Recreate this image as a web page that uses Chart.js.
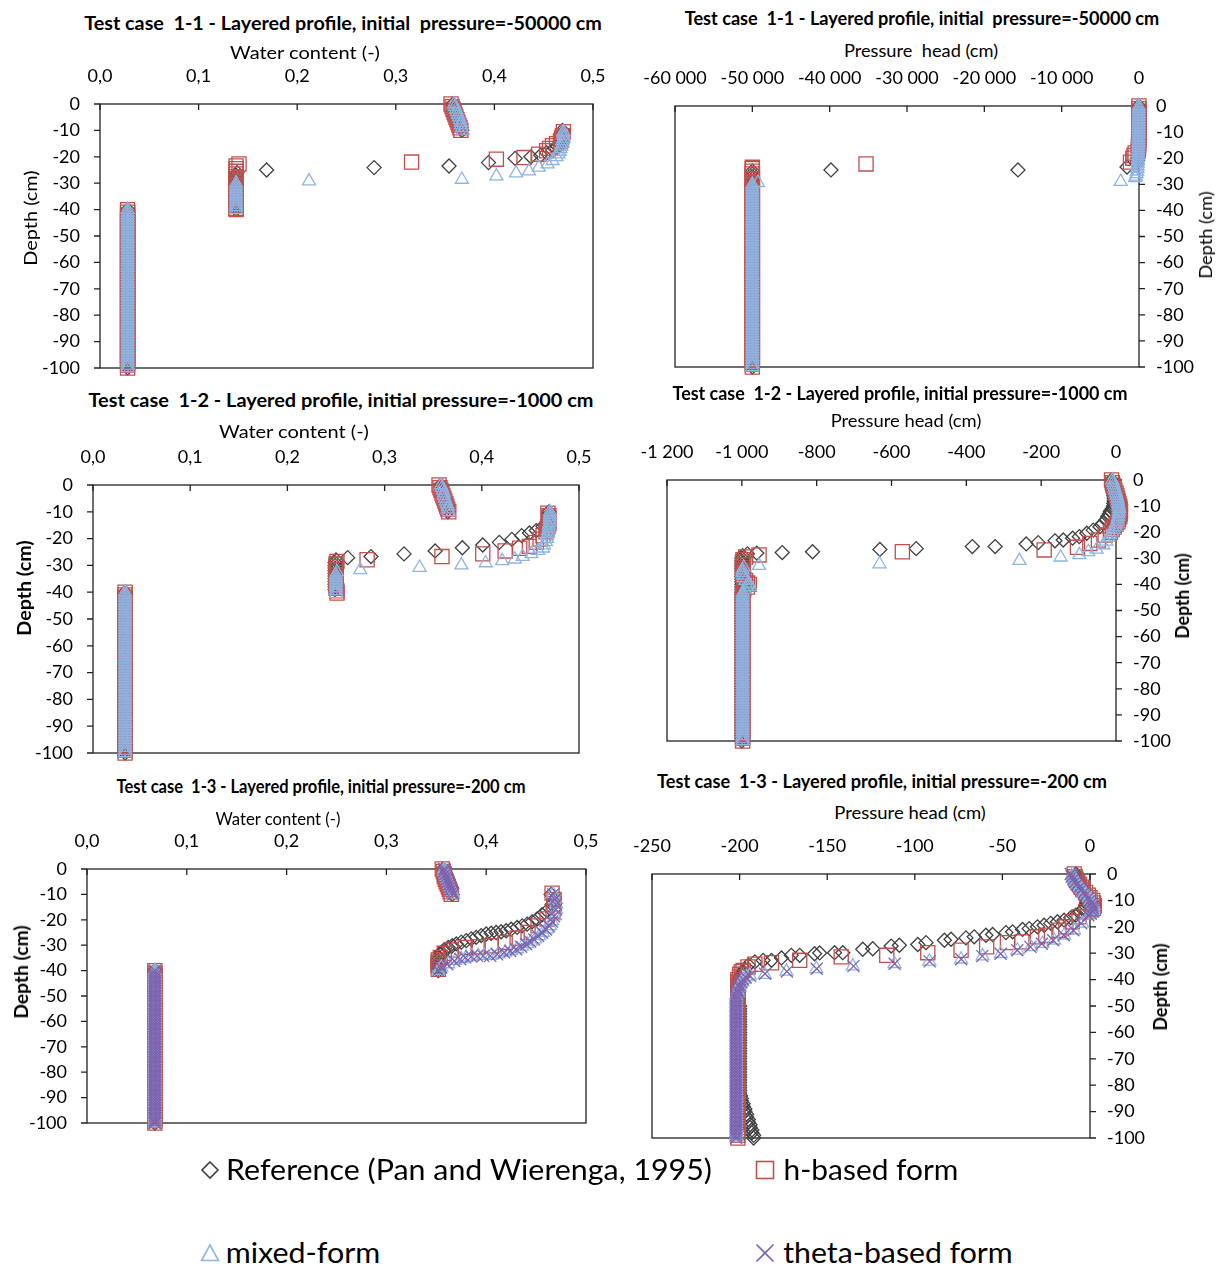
<!DOCTYPE html>
<html>
<head>
<meta charset="utf-8">
<script src="https://cdn.jsdelivr.net/npm/chart.js@4.4.0/dist/chart.umd.min.js"></script>
<style>
  body { margin: 0; background: #fff; }
  #page { position: relative; width: 1224px; height: 1268px; overflow: hidden; font-family: Lato, 'Open Sans', sans-serif; color: #000; }
  #page canvas { position: absolute; }
  .lbl { position: absolute; white-space: pre; line-height: 1; }
  .mark { position: absolute; }
</style>
</head>
<body>
<div id="page"></div>
<script>
// ---- data ----
// node depths (cm) of the top sand layer and of the lower sand layer
const depthTop = [0,-1,-2,-3,-4,-5,-6,-7,-8,-9,-10];
const depthDeep = [-40,-41,-42,-43,-44,-45,-46,-47,-48,-49,-50,-51,-52,-53,-54,-55,-56,-57,-58,-59,
  -60,-61,-62,-63,-64,-65,-66,-67,-68,-69,-70,-71,-72,-73,-74,-75,-76,-77,-78,-79,
  -80,-81,-82,-83,-84,-85,-86,-87,-88,-89,-90,-91,-92,-93,-94,-95,-96,-97,-98,-99,-100];

// Test case 1-1, water content: top layer values, [value, depth] pairs in between, lower layer values
const ref11ThetaTop = [.358,.359,.360,.360,.361,.362,.363,.364,.365,.366,.367];
const ref11ThetaMid = [[.469,-10],[.469,-11],[.469,-12],[.468,-13],[.467,-14],[.466,-15],[.464,-16],[.462,-17],[.459,-17.5],[.453,-18.5],[.447,-19.4],[.437,-20],[.421,-20.6],
  [.394,-22.2],[.354,-23.5],[.278,-24.1],[.169,-25],[.139,-26],[.138,-27],[.138,-28],[.138,-29],[.138,-30],[.138,-31],[.138,-32],[.138,-33],[.138,-34],[.138,-35],[.138,-36],
  [.138,-37],[.138,-38],[.138,-39],[.138,-40]];
const ref11ThetaDeep = [.028,.028,.028,.028,.028,.028,.028,.028,.028,.028,.028,.028,.028,.028,.028,.028,.028,.028,.028,.028,
  .028,.028,.028,.028,.028,.028,.028,.028,.028,.028,.028,.028,.028,.028,.028,.028,.028,.028,.028,.028,
  .028,.028,.028,.028,.028,.028,.028,.028,.028,.028,.028,.028,.028,.028,.028,.028,.028,.028,.028,.028,.028];
const h11ThetaTop = [.356,.357,.358,.359,.360,.361,.362,.363,.364,.365,.366];
const h11ThetaMid = [[.470,-10.5],[.469,-12],[.468,-13],[.467,-14],[.463,-15],[.459,-15.8],[.456,-16.8],[.453,-17.7],[.445,-19],[.430,-20.3],[.402,-20.9],[.316,-22],[.141,-22.7],
  [.138,-23.5],[.138,-24.5],[.138,-25.5],[.138,-26.5],[.138,-27.5],[.138,-28.5],[.138,-29.5],[.138,-30.5],[.138,-31.5],[.138,-32.5],[.138,-33.5],[.138,-34.5],[.138,-35.5],
  [.138,-36.5],[.138,-37.5],[.138,-38.5],[.138,-39.5],[.138,-40]];
const h11ThetaDeep = [.028,.028,.028,.028,.028,.028,.028,.028,.028,.028,.028,.028,.028,.028,.028,.028,.028,.028,.028,.028,
  .028,.028,.028,.028,.028,.028,.028,.028,.028,.028,.028,.028,.028,.028,.028,.028,.028,.028,.028,.028,
  .028,.028,.028,.028,.028,.028,.028,.028,.028,.028,.028,.028,.028,.028,.028,.028,.028,.028,.028,.028,.028];
const mix11ThetaTop = [.359,.360,.361,.362,.363,.364,.365,.366,.366,.367,.368];
const mix11ThetaMid = [[.470,-10.5],[.470,-11],[.470,-12],[.470,-13],[.469,-14],[.469,-15],[.468,-16],[.467,-17],[.466,-18],[.465,-19],[.463,-20],[.459,-21.5],[.454,-22.8],
  [.445,-24],[.435,-25.4],[.422,-26.2],[.402,-27.3],[.367,-28.6],[.212,-29.2],[.138,-30],[.138,-31],[.138,-32],[.138,-33],[.138,-34],[.138,-35],[.138,-36],[.138,-37],
  [.138,-38],[.138,-39],[.138,-40]];
const mix11ThetaDeep = [.028,.028,.028,.028,.028,.028,.028,.028,.028,.028,.028,.028,.028,.028,.028,.028,.028,.028,.028,.028,
  .028,.028,.028,.028,.028,.028,.028,.028,.028,.028,.028,.028,.028,.028,.028,.028,.028,.028,.028,.028,
  .028,.028,.028,.028,.028,.028,.028,.028,.028,.028,.028,.028,.028,.028,.028,.028,.028,.028,.028,.028,.028];

// Test case 1-1, pressure head
const ref11HeadTop = [-20,-20,-20,-20,-20,-25,-25,-30,-30,-35,-40];
const ref11HeadMid = [[-45,-11],[-50,-12],[-55,-13],[-60,-14],[-70,-15],[-80,-16],[-90,-17],[-100,-18],[-120,-19],[-150,-20],[-200,-21],[-300,-22],[-1550,-23.4],[-15650,-24.5],
  [-39830,-24.5],[-50000,-25],[-50000,-26],[-50000,-27],[-50000,-28],[-50000,-29],[-50000,-30],[-50000,-31],[-50000,-32],[-50000,-33],[-50000,-34],[-50000,-35],[-50000,-36],
  [-50000,-37],[-50000,-38],[-50000,-39]];
const ref11HeadDeep = [-50000,-50000,-50000,-50000,-50000,-50000,-50000,-50000,-50000,-50000,-50000,-50000,-50000,-50000,-50000,-50000,-50000,-50000,-50000,-50000,
  -50000,-50000,-50000,-50000,-50000,-50000,-50000,-50000,-50000,-50000,-50000,-50000,-50000,-50000,-50000,-50000,-50000,-50000,-50000,-50000,
  -50000,-50000,-50000,-50000,-50000,-50000,-50000,-50000,-50000,-50000,-50000,-50000,-50000,-50000,-50000,-50000,-50000,-50000,-50000,-50000,-50000];
const h11HeadTop = [-10,-10,-10,-11,-12,-13,-15,-17,-20,-22,-25];
const h11HeadMid = [[-30,-11],[-35,-12],[-40,-13],[-45,-14],[-50,-15],[-60,-16],[-80,-17],[-500,-18],[-650,-19],[-800,-20],[-1100,-21.5],[-35300,-22.2],[-50000,-23.5],
  [-50000,-24],[-50000,-25],[-50000,-26],[-50000,-27],[-50000,-28],[-50000,-29],[-50000,-30],[-50000,-31],[-50000,-32],[-50000,-33],[-50000,-34],[-50000,-35],[-50000,-36],
  [-50000,-37],[-50000,-38],[-50000,-39]];
const h11HeadDeep = [-50000,-50000,-50000,-50000,-50000,-50000,-50000,-50000,-50000,-50000,-50000,-50000,-50000,-50000,-50000,-50000,-50000,-50000,-50000,-50000,
  -50000,-50000,-50000,-50000,-50000,-50000,-50000,-50000,-50000,-50000,-50000,-50000,-50000,-50000,-50000,-50000,-50000,-50000,-50000,-50000,
  -50000,-50000,-50000,-50000,-50000,-50000,-50000,-50000,-50000,-50000,-50000,-50000,-50000,-50000,-50000,-50000,-50000,-50000,-50000,-50000,-50000];
const mix11HeadTop = [-30,-30,-30,-32,-35,-37,-40,-42,-45,-47,-50];
const mix11HeadMid = [[-55,-11],[-60,-12],[-65,-13],[-70,-14],[-75,-15],[-80,-16],[-90,-17],[-100,-18],[-110,-19],[-120,-20],[-135,-21],[-150,-22],[-175,-23],[-200,-24],
  [-250,-25],[-300,-26],[-400,-27],[-500,-27.5],[-2370,-29],[-49270,-29.4],[-50000,-30],[-50000,-31],[-50000,-32],[-50000,-33],[-50000,-34],[-50000,-35],[-50000,-36],
  [-50000,-37],[-50000,-38],[-50000,-39]];
const mix11HeadDeep = [-50000,-50000,-50000,-50000,-50000,-50000,-50000,-50000,-50000,-50000,-50000,-50000,-50000,-50000,-50000,-50000,-50000,-50000,-50000,-50000,
  -50000,-50000,-50000,-50000,-50000,-50000,-50000,-50000,-50000,-50000,-50000,-50000,-50000,-50000,-50000,-50000,-50000,-50000,-50000,-50000,
  -50000,-50000,-50000,-50000,-50000,-50000,-50000,-50000,-50000,-50000,-50000,-50000,-50000,-50000,-50000,-50000,-50000,-50000,-50000,-50000,-50000];

// Test case 1-2, water content
const ref12ThetaTop = [.358,.358,.359,.360,.361,.362,.362,.363,.364,.364,.365];
const ref12ThetaMid = [[.469,-10],[.469,-11],[.469,-12],[.468,-13],[.467,-14],[.463,-15.5],[.456,-17],[.449,-17.9],[.441,-18.9],[.431,-20.3],[.418,-21.4],[.401,-22.4],
  [.380,-23.4],[.352,-24.6],[.320,-25.7],[.286,-26.7],[.262,-27.1],[.250,-28],[.249,-29],[.249,-30],[.249,-31],[.249,-32],[.249,-33],[.249,-34],[.249,-35],[.249,-36],
  [.249,-37],[.249,-38],[.249,-39]];
const ref12ThetaDeep = [.033,.033,.033,.033,.033,.033,.033,.033,.033,.033,.033,.033,.033,.033,.033,.033,.033,.033,.033,.033,
  .033,.033,.033,.033,.033,.033,.033,.033,.033,.033,.033,.033,.033,.033,.033,.033,.033,.033,.033,.033,
  .033,.033,.033,.033,.033,.033,.033,.033,.033,.033,.033,.033,.033,.033,.033,.033,.033,.033,.033,.033,.033];
const h12ThetaTop = [.356,.357,.358,.359,.360,.361,.362,.363,.364,.365,.366];
const h12ThetaMid = [[.468,-10.5],[.469,-11.5],[.469,-12.5],[.469,-13.5],[.469,-14.5],[.468,-15.5],[.467,-16.5],[.466,-17.5],[.463,-18.9],[.460,-20.2],[.456,-21.4],
  [.449,-22.9],[.439,-23.6],[.424,-24.6],[.401,-25.7],[.359,-26.7],[.282,-27.9],[.251,-28.5],[.250,-29.5],[.250,-30.5],[.250,-31.5],[.250,-32.5],[.250,-33.5],[.250,-34.5],
  [.250,-35.5],[.250,-36.5],[.250,-37.5],[.250,-38.5],[.251,-39.5],[.251,-40.3]];
const h12ThetaDeep = [.033,.033,.033,.033,.033,.033,.033,.033,.033,.033,.033,.033,.033,.033,.033,.033,.033,.033,.033,.033,
  .033,.033,.033,.033,.033,.033,.033,.033,.033,.033,.033,.033,.033,.033,.033,.033,.033,.033,.033,.033,
  .033,.033,.033,.033,.033,.033,.033,.033,.033,.033,.033,.033,.033,.033,.033,.033,.033,.033,.033,.033,.033];
const mix12ThetaTop = [.358,.359,.360,.361,.361,.362,.363,.364,.365,.365,.366];
const mix12ThetaMid = [[.470,-10],[.470,-11],[.470,-12],[.470,-13],[.470,-14],[.469,-15],[.469,-16],[.468,-17],[.468,-18],[.467,-19],[.467,-20],[.466,-21.2],[.464,-22.4],
  [.463,-23.6],[.458,-24.5],[.451,-25.7],[.442,-26.7],[.434,-27.7],[.421,-28.3],[.404,-29.1],[.379,-29.9],[.336,-30.8],[.275,-31.7],[.251,-32.5],[.250,-33.5],[.250,-34.5],
  [.250,-35.5],[.250,-36.5],[.250,-37.5],[.250,-38.5],[.250,-39.5],[.250,-40.5]];
const mix12ThetaDeep = [.033,.033,.033,.033,.033,.033,.033,.033,.033,.033,.033,.033,.033,.033,.033,.033,.033,.033,.033,.033,
  .033,.033,.033,.033,.033,.033,.033,.033,.033,.033,.033,.033,.033,.033,.033,.033,.033,.033,.033,.033,
  .033,.033,.033,.033,.033,.033,.033,.033,.033,.033,.033,.033,.033,.033,.033,.033,.033,.033,.033,.033,.033];

// Test case 1-2, pressure head
const ref12HeadTop = [-12,-11,-10,-9,-8,-7,-6,-5,-5,-6,-7];
const ref12HeadMid = [[-10,-11],[-15,-12],[-18,-13],[-22,-14],[-27,-15.3],[-35,-16.6],[-43,-17.9],[-61,-19.2],[-78,-20.4],[-98,-21.7],[-116,-22.3],[-141,-23],[-163,-23.3],
  [-208,-24],[-240,-24.5],[-323,-25.5],[-384,-25.5],[-534,-26.3],[-631,-26.6],[-811,-27.5],[-892,-27.8],[-960,-28],[-985,-28.3],[-998,-29],[-1000,-30],[-1000,-31],
  [-1000,-32],[-1000,-33],[-1000,-34],[-1000,-35],[-1000,-36],[-1000,-37],[-1000,-38],[-1000,-39]];
const ref12HeadDeep = [-1000,-1000,-1000,-1000,-1000,-1000,-1000,-1000,-1000,-1000,-1000,-1000,-1000,-1000,-1000,-1000,-1000,-1000,-1000,-1000,
  -1000,-1000,-1000,-1000,-1000,-1000,-1000,-1000,-1000,-1000,-1000,-1000,-1000,-1000,-1000,-1000,-1000,-1000,-1000,-1000,
  -1000,-1000,-1000,-1000,-1000,-1000,-1000,-1000,-1000,-1000,-1000,-1000,-1000,-1000,-1000,-1000,-1000,-1000,-1000,-1000,-1000];
const h12HeadTop = [-12,-10,-8,-5,-3,0,2,4,6,8,10];
const h12HeadMid = [[11,-11],[12,-12],[11,-13],[10,-14],[7,-15],[5,-16],[0,-17],[-5,-18],[-10,-19],[-15,-20],[-29,-21.1],[-47,-23],[-70,-24.3],[-103,-25.8],[-192,-26.8],
  [-571,-27.5],[-954,-28.7],[-990,-29.5],[-997,-30.5],[-998,-31.5],[-998,-32.5],[-998,-33.5],[-998,-34.5],[-998,-35.5],[-997,-36.5],[-995,-37.5],[-990,-38.5],[-985,-39.5]];
const h12HeadDeep = [-980,-985,-995,-998,-998,-998,-998,-998,-998,-998,-998,-998,-998,-998,-998,-998,-998,-998,-998,-998,
  -998,-998,-998,-998,-998,-998,-998,-998,-998,-998,-998,-998,-998,-998,-998,-998,-998,-998,-998,-998,
  -998,-998,-998,-998,-998,-998,-998,-998,-998,-998,-998,-998,-998,-998,-998,-998,-998,-998,-998,-998,-998];
const mix12HeadTop = [-10,-8,-6,-4,-2,0,2,4,5,6,7];
const mix12HeadMid = [[8,-11],[8,-12],[7,-13],[6,-14],[4,-15],[3,-16],[0,-17],[-2,-18],[-6,-19],[-10,-20],[-15,-21],[-20,-22],[-26,-23.5],[-34,-24.9],[-52,-26.6],
  [-74,-27.5],[-98,-28.7],[-148,-29.6],[-258,-30.9],[-632,-32.2],[-954,-32.8],[-995,-33.5],[-998,-34.5],[-998,-35.5],[-997,-36.5],[-995,-37.5],[-990,-38.5],[-983,-39.5]];
const mix12HeadDeep = [-980,-978,-992,-997,-998,-998,-998,-998,-998,-998,-998,-998,-998,-998,-998,-998,-998,-998,-998,-998,
  -998,-998,-998,-998,-998,-998,-998,-998,-998,-998,-998,-998,-998,-998,-998,-998,-998,-998,-998,-998,
  -998,-998,-998,-998,-998,-998,-998,-998,-998,-998,-998,-998,-998,-998,-998,-998,-998,-998,-998,-998,-998];

// Test case 1-3, water content
const ref13ThetaTop = [.357,.358,.359,.360,.361,.362,.362,.363,.364,.365,.366];
const ref13ThetaMid = [[.465,-10],[.468,-12],[.466,-14],[.461,-16.5],[.456,-18],[.451,-19.7],[.446,-20.8],[.441,-21.7],[.436,-22.4],[.431,-23],[.425,-23.7],[.420,-24.3],
  [.415,-24.7],[.410,-25],[.405,-25.3],[.400,-25.6],[.395,-26.2],[.390,-26.9],[.385,-27.5],[.380,-28.2],[.375,-28.8],[.370,-29.5],[.366,-30.2],[.362,-30.9],[.358,-31.8],
  [.355,-32.8],[.354,-33.8],[.353,-34.8],[.352,-36],[.352,-37],[.352,-38],[.352,-39],[.352,-40]];
const ref13ThetaDeep = [.068,.068,.068,.068,.068,.068,.068,.068,.068,.068,.068,.068,.068,.068,.068,.068,.068,.068,.068,.068,
  .068,.068,.068,.068,.068,.068,.068,.068,.068,.068,.068,.068,.068,.068,.068,.068,.068,.068,.068,.068,
  .068,.068,.068,.068,.068,.068,.068,.068,.068,.068,.068,.068,.068,.068,.068,.068,.068,.068,.068,.068,.068];
const h13ThetaTop = [.356,.357,.358,.358,.359,.360,.361,.362,.363,.364,.365];
const h13ThetaMid = [[.466,-9.5],[.468,-12],[.468,-13.8],[.467,-16.5],[.461,-19.7],[.452,-22.4],[.442,-25],[.431,-27.2],[.419,-28.9],[.405,-30.2],[.392,-30.6],[.379,-30.9],
  [.365,-31.9],[.358,-33.2],[.354,-34.8],[.352,-35.8],[.352,-36.7],[.352,-37.6],[.352,-38.5],[.352,-39.5]];
const h13ThetaDeep = [.068,.068,.068,.068,.068,.068,.068,.068,.068,.068,.068,.068,.068,.068,.068,.068,.068,.068,.068,.068,
  .068,.068,.068,.068,.068,.068,.068,.068,.068,.068,.068,.068,.068,.068,.068,.068,.068,.068,.068,.068,
  .068,.068,.068,.068,.068,.068,.068,.068,.068,.068,.068,.068,.068,.068,.068,.068,.068,.068,.068,.068,.068];
const mix13ThetaTop = [.358,.358,.359,.360,.361,.362,.363,.364,.365,.366,.367];
const mix13ThetaMid = [[.467,-9.8],[.470,-12],[.470,-13.8],[.470,-16],[.469,-18.4],[.466,-20.5],[.464,-22.4],[.461,-23.7],[.457,-25],[.453,-26.3],[.449,-27.6],[.445,-28.5],
  [.441,-29.5],[.436,-30.5],[.431,-31.5],[.425,-32.2],[.419,-32.8],[.412,-33.5],[.405,-34.1],[.398,-34.1],[.392,-34.1],[.386,-34.4],[.380,-34.8],[.375,-35.4],[.369,-36.1],
  [.362,-37.4],[.355,-38.7],[.352,-40]];
const mix13ThetaDeep = [.068,.068,.068,.068,.068,.068,.068,.068,.068,.068,.068,.068,.068,.068,.068,.068,.068,.068,.068,.068,
  .068,.068,.068,.068,.068,.068,.068,.068,.068,.068,.068,.068,.068,.068,.068,.068,.068,.068,.068,.068,
  .068,.068,.068,.068,.068,.068,.068,.068,.068,.068,.068,.068,.068,.068,.068,.068,.068,.068,.068,.068,.068];
const theta13ThetaTop = [.358,.358,.359,.360,.361,.362,.363,.364,.365,.366,.367];
const theta13ThetaMid = [[.467,-10],[.469,-12],[.470,-14],[.470,-16],[.468,-18.6],[.466,-20.7],[.463,-22.5],[.460,-23.8],[.456,-25.1],[.452,-26.4],[.448,-27.7],[.444,-28.6],
  [.440,-29.6],[.435,-30.6],[.430,-31.6],[.424,-32.3],[.418,-32.9],[.411,-33.6],[.404,-34.2],[.397,-34.2],[.391,-34.2],[.385,-34.5],[.379,-34.9],[.374,-35.5],[.368,-36.2],
  [.361,-37.5],[.355,-38.8],[.352,-40]];
const theta13ThetaDeep = [.068,.068,.068,.068,.068,.068,.068,.068,.068,.068,.068,.068,.068,.068,.068,.068,.068,.068,.068,.068,
  .068,.068,.068,.068,.068,.068,.068,.068,.068,.068,.068,.068,.068,.068,.068,.068,.068,.068,.068,.068,
  .068,.068,.068,.068,.068,.068,.068,.068,.068,.068,.068,.068,.068,.068,.068,.068,.068,.068,.068,.068,.068];

// Test case 1-3, pressure head
const ref13HeadTop = [-8,-7.5,-7,-6.5,-6,-5,-4.5,-3.5,-3,-2.5,-2];
const ref13HeadMid = [[-2,-11],[-2.5,-12],[-3,-13],[-4,-13.5],[-5.3,-14.3],[-8.1,-15.6],[-11,-16.6],[-14.8,-17.5],[-18.6,-18.1],[-22.4,-18.7],[-26.2,-19.4],[-30,-20],
  [-34.7,-20.7],[-38.5,-21],[-44.2,-21.9],[-48,-22.2],[-55.6,-22.9],[-59.4,-23.2],[-66.1,-23.8],[-70.8,-24.2],[-79.3,-24.7],[-83.1,-25.1],[-93.6,-26],[-98.3,-26.7],
  [-108.8,-27],[-113.5,-27.3],[-124,-28.3],[-129.7,-28.5],[-141.1,-29.8],[-145.8,-29.8],[-154.3,-29.9],[-157.2,-30.2],[-165.7,-30.8],[-170.5,-30.8],[-176.1,-31.8],
  [-181.8,-32.7],[-186.6,-32.7],[-191.3,-33.3],[-195,-34.5],[-197,-36],[-198,-37],[-199,-38],[-200,-39]];
const ref13HeadDeep = [-201,-201,-201,-201,-201,-201,-201,-201,-201,-201,-200,-200,-200,-200,-200,-200,-200,-200,-200,-200,
  -200,-200,-200,-200,-200,-200,-200,-200,-200,-200,-200,-200,-200,-200,-200,-200,-200,-200,-200,-200,
  -200,-200,-200,-200,-199.5,-199,-199,-198,-198,-197,-197,-196,-196,-195,-195,-194,-194,-193,-193,-192,-192];
const h13HeadTop = [-9,-8.5,-8,-7,-6,-5,-4,-2.5,-1,0,1.5];
const h13HeadMid = [[2,-11],[2.5,-12],[2,-13],[1,-13.5],[-2.4,-14.3],[-6.3,-16.2],[-10.1,-18.1],[-13.8,-20],[-17.7,-21.3],[-25.2,-23.2],[-30,-23.8],[-38.9,-25.7],[-47.1,-26],
  [-59,-27.6],[-73.6,-28.9],[-92.6,-29.8],[-116,-30.8],[-142,-31.4],[-165.7,-32.7],[-181.8,-33.6],[-191.3,-34.2],[-195.2,-35.2],[-198,-36.5],[-199,-37],[-200,-38],[-200,-39]];
const h13HeadDeep = [-201,-201,-201,-201,-201,-201,-201,-201,-201,-201,-201,-201,-201,-201,-201,-201,-201,-201,-201,-201,
  -201,-201,-201,-201,-201,-201,-201,-201,-201,-201,-201,-201,-201,-201,-201,-201,-201,-201,-201,-201,
  -201,-201,-201,-201,-201,-201,-201,-201,-201,-201,-201,-201,-201,-201,-201,-201,-201,-201,-201,-201,-201];
const mix13HeadTop = [-10,-9.5,-9,-8,-7,-5.5,-4.5,-3,-2,-.5,.5];
const mix13HeadMid = [[1.5,-11],[2,-12],[2,-13],[2,-14],[1,-15],[-.6,-15.6],[-4.4,-18.7],[-9.1,-21.3],[-14.8,-23.2],[-20.5,-25.1],[-27.2,-26.4],[-33.8,-27.6],[-41.4,-28.9],
  [-50.9,-30.2],[-61.3,-31.1],[-73.6,-32.3],[-91.7,-33.1],[-111.6,-34],[-135.4,-34.9],[-156.2,-35.9],[-173.3,-36.9],[-185.6,-38.1],[-194.2,-38.4],[-196,-39]];
const mix13HeadDeep = [-198,-199,-200,-200,-201,-201,-202,-202,-202,-202,-202,-202,-202,-202,-202,-202,-202,-202,-202,-202,
  -202,-202,-202,-202,-202,-202,-202,-202,-202,-202,-202,-202,-202,-202,-202,-202,-202,-202,-202,-202,
  -202,-202,-202,-202,-202,-202,-202,-202,-202,-202,-202,-202,-202,-202,-202,-202,-202,-202,-202,-202,-202];
const theta13HeadTop = [-11,-10.5,-9.5,-8.5,-7.5,-6,-5,-3.5,-2.5,-1,0];
const theta13HeadMid = [[1,-11],[1.5,-12],[1.5,-13],[1.5,-14],[.5,-15],[-1,-15.6],[-5,-18.7],[-9.5,-21.3],[-15,-23.2],[-21,-25.1],[-27.5,-26.4],[-34,-27.6],[-41.5,-28.9],
  [-51,-30.2],[-61.5,-31.1],[-73.5,-32.3],[-91.5,-33.1],[-111.5,-34],[-135,-34.9],[-156,-35.9],[-173,-36.9],[-185.5,-37.8],[-194,-38.6],[-196.5,-39.2]];
const theta13HeadDeep = [-198,-199,-200,-200,-201,-201,-202,-202,-202,-202,-202,-202,-202,-202,-202,-202,-202,-202,-202,-202,
  -202,-202,-202,-202,-202,-202,-202,-202,-202,-202,-202,-202,-202,-202,-202,-202,-202,-202,-202,-202,
  -202,-202,-202,-202,-202,-202,-202,-202,-202,-202,-202,-202,-202,-202,-202,-202,-202,-202,-202,-202,-202];

const seriesNames = ['Reference (Pan and Wierenga, 1995)', 'h-based form', 'mixed-form', 'theta-based form'];

// ---- styles ----
const markers = [
  { pointStyle: 'rectRot', radius: 7, color: '#404040', order: 4 },
  { pointStyle: 'rect', radius: 10, color: '#C0504D', order: 3 },
  { pointStyle: 'triangle', radius: 7.5, color: '#8EB4E3', order: 2 },
  { pointStyle: 'crossRot', radius: 8.5, color: '#7E62AE', order: 1 },
];
const tickFont = { family: 'Lato', size: 18 };
const page = document.getElementById('page');

const fmtTheta = v => v.toFixed(1).replace('.', ',');
const fmtHead = v => (v < 0 ? '-' : '') + Math.abs(Math.round(v)).toString().replace(/\B(?=(\d{3})+(?!\d))/g, ' ');

function joinSeries(top, mid, deep) {
  return [
    ...top.map((v, i) => ({ x: v, y: depthTop[i] })),
    ...mid.map(([x, y]) => ({ x, y })),
    ...deep.map((v, i) => ({ x: v, y: depthDeep[i] })),
  ];
}

// frame + tick marks (x ticks inward at top, y ticks outward)
const framePlugin = {
  id: 'frame',
  beforeDatasetsDraw(chart) {
    const { ctx, chartArea: a, scales: { x, y } } = chart;
    ctx.save();
    ctx.strokeStyle = '#222';
    ctx.lineWidth = 1.3;
    ctx.strokeRect(a.left, a.top, a.right - a.left, a.bottom - a.top);
    ctx.beginPath();
    x.ticks.forEach(t => {
      const px = x.getPixelForValue(t.value);
      ctx.moveTo(px, a.top); ctx.lineTo(px, a.top + 6);
    });
    const right = y.options.position === 'right';
    y.ticks.forEach(t => {
      const py = y.getPixelForValue(t.value);
      if (right) { ctx.moveTo(a.right, py); ctx.lineTo(a.right + 6, py); }
      else { ctx.moveTo(a.left, py); ctx.lineTo(a.left - 6, py); }
    });
    ctx.stroke();
    ctx.restore();
  }
};

function makePanel(box, xMin, xMax, xStep, fmt, yRight, series) {
  const padL = yRight ? 40 : 90, padR = yRight ? 90 : 30, padT = 45, padB = 18;
  const cv = document.createElement('canvas');
  cv.width = box.R - box.L + padL + padR;
  cv.height = box.B - box.T + padT + padB;
  cv.style.left = (box.L - padL) + 'px';
  cv.style.top = (box.T - padT) + 'px';
  page.appendChild(cv);

  const datasets = series.map((s, i) => ({
    label: seriesNames[i],
    data: s,
    pointStyle: markers[i].pointStyle,
    pointRadius: markers[i].radius,
    pointBorderColor: markers[i].color,
    pointBackgroundColor: 'rgba(0,0,0,0)',
    pointBorderWidth: 1.3,
    showLine: false,
    order: markers[i].order,
    clip: false,
  }));

  new Chart(cv, {
    type: 'scatter',
    data: { datasets },
    options: {
      responsive: false,
      animation: false,
      events: [],
      layout: { padding: { left: yRight ? padL : 0, right: yRight ? 0 : padR, top: 0, bottom: padB } },
      plugins: { legend: { display: false }, tooltip: { enabled: false } },
      scales: {
        x: {
          type: 'linear', position: 'top', min: xMin, max: xMax,
          grid: { display: false, drawTicks: false }, border: { display: false },
          ticks: { stepSize: xStep, callback: fmt, font: tickFont, color: '#000', padding: 17, autoSkip: false, maxRotation: 0, minRotation: 0 },
          afterFit: s => { s.height = padT; s.paddingLeft = 0; s.paddingRight = 0; }
        },
        y: {
          type: 'linear', position: yRight ? 'right' : 'left', min: -100, max: 0,
          grid: { display: false, drawTicks: false }, border: { display: false },
          ticks: { stepSize: 10, font: tickFont, color: '#000', padding: yRight ? 17 : 20, autoSkip: false },
          afterFit: s => { s.width = yRight ? padR : padL; s.paddingTop = 0; s.paddingBottom = 0; }
        }
      }
    },
    plugins: [framePlugin]
  });
}

// text placed by centre and stretched to the width seen in the figure
function label(txt, cx, cy, w, size, bold, rot) {
  const d = document.createElement('div');
  d.className = 'lbl';
  d.textContent = txt;
  d.style.fontSize = size + 'px';
  if (bold) d.style.fontWeight = 'bold';
  page.appendChild(d);
  const s = w / d.offsetWidth;
  d.style.left = cx + 'px';
  d.style.top = cy + 'px';
  d.style.transform = 'translate(-50%,-50%)' + (rot ? ' rotate(-90deg)' : '') + ' scaleX(' + s + ')';
}

function legendMark(kind, cx, cy, color) {
  const ns = 'http://www.w3.org/2000/svg';
  const svg = document.createElementNS(ns, 'svg');
  svg.setAttribute('width', 22); svg.setAttribute('height', 22);
  svg.setAttribute('class', 'mark');
  svg.style.left = (cx - 11) + 'px'; svg.style.top = (cy - 11) + 'px';
  const shapes = {
    diamond: '<polygon points="11,3 19,11 11,19 3,11"/>',
    square: '<rect x="2.5" y="2.5" width="17" height="17"/>',
    triangle: '<polygon points="11,3 19.5,18.5 2.5,18.5"/>',
    cross: '<path d="M2.5,2.5 L19.5,19.5 M19.5,2.5 L2.5,19.5"/>'
  };
  svg.innerHTML = '<g fill="none" stroke="' + color + '" stroke-width="1.6">' + shapes[kind] + '</g>';
  page.appendChild(svg);
}

makePanel({ L: 100, T: 104, R: 593, B: 368 }, 0, 0.5, 0.1, fmtTheta, false, [
  joinSeries(ref11ThetaTop, ref11ThetaMid, ref11ThetaDeep),
  joinSeries(h11ThetaTop, h11ThetaMid, h11ThetaDeep),
  joinSeries(mix11ThetaTop, mix11ThetaMid, mix11ThetaDeep)]);
makePanel({ L: 675, T: 106, R: 1139, B: 367 }, -60000, 0, 10000, fmtHead, true, [
  joinSeries(ref11HeadTop, ref11HeadMid, ref11HeadDeep),
  joinSeries(h11HeadTop, h11HeadMid, h11HeadDeep),
  joinSeries(mix11HeadTop, mix11HeadMid, mix11HeadDeep)]);
makePanel({ L: 93, T: 485, R: 579, B: 753 }, 0, 0.5, 0.1, fmtTheta, false, [
  joinSeries(ref12ThetaTop, ref12ThetaMid, ref12ThetaDeep),
  joinSeries(h12ThetaTop, h12ThetaMid, h12ThetaDeep),
  joinSeries(mix12ThetaTop, mix12ThetaMid, mix12ThetaDeep)]);
makePanel({ L: 667, T: 480, R: 1116, B: 741 }, -1200, 0, 200, fmtHead, true, [
  joinSeries(ref12HeadTop, ref12HeadMid, ref12HeadDeep),
  joinSeries(h12HeadTop, h12HeadMid, h12HeadDeep),
  joinSeries(mix12HeadTop, mix12HeadMid, mix12HeadDeep)]);
makePanel({ L: 87, T: 869, R: 586, B: 1123 }, 0, 0.5, 0.1, fmtTheta, false, [
  joinSeries(ref13ThetaTop, ref13ThetaMid, ref13ThetaDeep),
  joinSeries(h13ThetaTop, h13ThetaMid, h13ThetaDeep),
  joinSeries(mix13ThetaTop, mix13ThetaMid, mix13ThetaDeep),
  joinSeries(theta13ThetaTop, theta13ThetaMid, theta13ThetaDeep)]);
makePanel({ L: 652, T: 874, R: 1090, B: 1138 }, -250, 0, 50, fmtHead, true, [
  joinSeries(ref13HeadTop, ref13HeadMid, ref13HeadDeep),
  joinSeries(h13HeadTop, h13HeadMid, h13HeadDeep),
  joinSeries(mix13HeadTop, mix13HeadMid, mix13HeadDeep),
  joinSeries(theta13HeadTop, theta13HeadMid, theta13HeadDeep)]);

// titles
label('Test case  1-1 - Layered profile, initial  pressure=-50000 cm', 342.5, 21.5, 518, 19, true);
label('Test case  1-1 - Layered profile, initial  pressure=-50000 cm', 921.5, 16.5, 475, 19, true);
label('Test case  1-2 - Layered profile, initial pressure=-1000 cm', 340.5, 399, 505, 19, true);
label('Test case  1-2 - Layered profile, initial pressure=-1000 cm', 900, 391.5, 455, 19, true);
label('Test case  1-3 - Layered profile, initial pressure=-200 cm', 321, 785, 409, 19, true);
label('Test case  1-3 - Layered profile, initial pressure=-200 cm', 882, 780, 450, 19, true);

// axis titles
label('Water content (-)', 304.5, 51.5, 150, 18);
label('Water content (-)', 294, 430.5, 150, 18);
label('Water content (-)', 278, 818, 125, 18);
label('Pressure  head (cm)', 921, 50, 154, 18);
label('Pressure head (cm)', 906, 420, 151, 18);
label('Pressure head (cm)', 910, 811.5, 152, 18);
label('Depth (cm)', 30, 217.5, 95, 18, false, true);
label('Depth (cm)', 1205, 235, 87, 18, false, true);
label('Depth (cm)', 23.5, 587.5, 95, 18, true, true);
label('Depth (cm)', 1181.5, 596, 85, 18, true, true);
label('Depth (cm)', 20.5, 971.5, 93, 18, true, true);
label('Depth (cm)', 1160, 986.5, 87, 18, true, true);

// legend
legendMark('diamond', 210, 1170, markers[0].color);
legendMark('square', 765, 1170, markers[1].color);
legendMark('triangle', 210, 1253, markers[2].color);
legendMark('cross', 765, 1253, markers[3].color);
label(seriesNames[0], 469, 1169, 486, 28);
label(seriesNames[1], 870.5, 1169, 175, 28);
label(seriesNames[2], 303, 1252, 154, 28);
label(seriesNames[3], 898, 1252, 230, 28);
</script>
</body>
</html>
